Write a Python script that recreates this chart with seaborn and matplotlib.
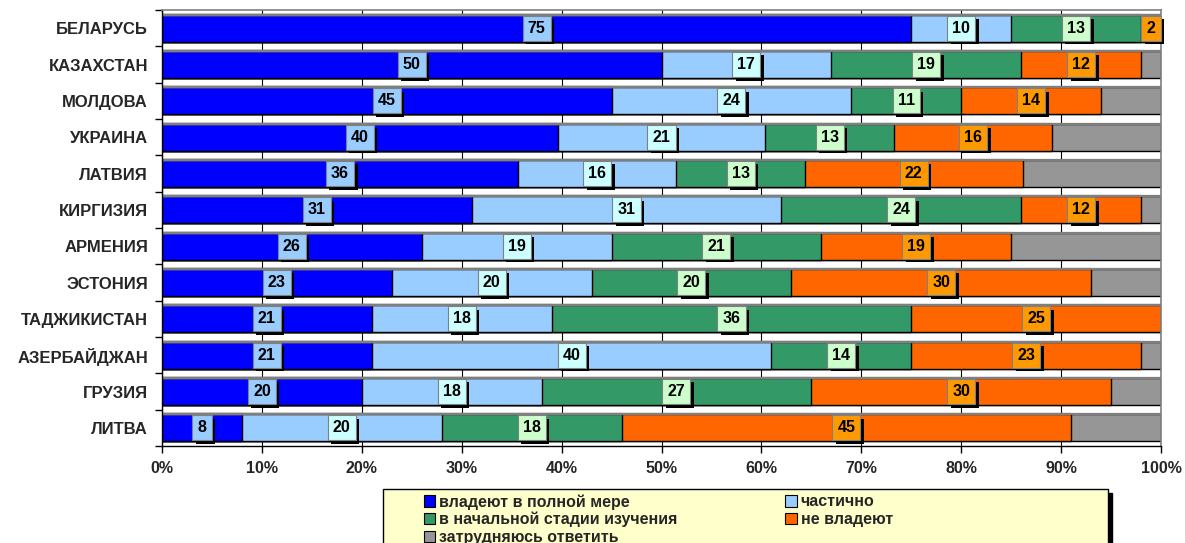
import numpy as np
import pandas as pd
import matplotlib
matplotlib.use("Agg")
import matplotlib.pyplot as plt
import seaborn as sns
from matplotlib import patheffects
from matplotlib.patches import Rectangle, Patch
from matplotlib.ticker import FixedLocator

countries = ["БЕЛАРУСЬ", "КАЗАХСТАН", "МОЛДОВА", "УКРАИНА", "ЛАТВИЯ", "КИРГИЗИЯ",
             "АРМЕНИЯ", "ЭСТОНИЯ", "ТАДЖИКИСТАН", "АЗЕРБАЙДЖАН", "ГРУЗИЯ", "ЛИТВА"]
full_command = [75, 50, 45, 40, 36, 31, 26, 23, 21, 21, 20, 8]
partial = [10, 17, 24, 21, 16, 31, 19, 20, 18, 40, 18, 20]
initial_stage = [13, 19, 11, 13, 13, 24, 21, 20, 36, 14, 27, 18]
no_command = [2, 12, 14, 16, 22, 12, 19, 30, 25, 23, 30, 45]
unsure = [0, 2, 6, 11, 14, 2, 15, 7, 0, 2, 5, 9]

series_names = ["владеют в полной мере", "частично", "в начальной стадии изучения",
                "не владеют", "затрудняюсь ответить"]
tick_values = [0, 10, 20, 30, 40, 50, 60, 70, 80, 90, 100]

colors = ["#0000FF", "#99CCFF", "#339966", "#FF6600", "#969696"]
label_bg = ["#99CCFF", "#CCFFFF", "#CCFFCC", "#FF9900"]

sns.set_style("white")
plt.rcParams["font.family"] = ["Liberation Sans", "DejaVu Sans"]

df = pd.DataFrame({"country": countries,
                   series_names[0]: full_command,
                   series_names[1]: partial,
                   series_names[2]: initial_stage,
                   series_names[3]: no_command,
                   series_names[4]: unsure})
vals = df[series_names]
pct = vals.div(vals.sum(axis=1), axis=0) * 100
cum = pct.cumsum(axis=1)

fig = plt.figure(figsize=(11.85, 5.43), dpi=100)
ax = fig.add_axes([162 / 1185, 1 - 446 / 543, (1161 - 162) / 1185, (446 - 10) / 543])

for i in reversed(range(len(series_names))):
    sns.barplot(x=cum[series_names[i]].values, y=df["country"], orient="h",
                color=colors[i], saturation=1, width=0.75, errorbar=None,
                edgecolor="black", linewidth=1.0, ax=ax)

# grey top edge of each bar (Excel-like)
for p in list(ax.patches):
    if p.get_width() > 0:
        ax.plot([p.get_x(), p.get_x() + p.get_width()], [p.get_y(), p.get_y()],
                color="#7f7f7f", lw=1.6, solid_capstyle="butt", zorder=p.get_zorder() + 0.01)

ax.set_xlim(0, 100)
ax.set_ylim(11.5, -0.5)
ax.set_xlabel("")
ax.set_ylabel("")
ax.set_xticks(tick_values)
ax.set_xticklabels([f"{v}%" for v in tick_values], fontweight="bold", fontsize=11.5)
ax.set_yticks(range(len(countries)))
ax.set_yticklabels(countries, fontweight="bold", fontsize=12)
ax.tick_params(axis="y", which="major", length=0, pad=10)
ax.yaxis.set_minor_locator(FixedLocator(np.arange(-0.5, len(countries), 1)))
ax.tick_params(axis="y", which="minor", length=5, width=1, color="black", left=True)
ax.tick_params(axis="x", which="major", length=5, width=1, color="black", bottom=True, pad=6)
ax.grid(axis="x", color="black", linewidth=0.8)
ax.grid(axis="y", visible=False)
ax.set_axisbelow(True)
for s in ["top", "right"]:
    ax.spines[s].set_color("#808080")
    ax.spines[s].set_linewidth(1.2)
for s in ["left", "bottom"]:
    ax.spines[s].set_color("black")
    ax.spines[s].set_linewidth(1.0)

shadow = [patheffects.SimplePatchShadow(offset=(2.5, -2.5), shadow_rgbFace="black", alpha=1.0),
          patheffects.Normal()]
for i in range(4):
    prev = cum[series_names[i - 1]] if i > 0 else pd.Series(0, index=cum.index)
    for j in range(len(countries)):
        v = vals[series_names[i]].iloc[j]
        if v <= 0:
            continue
        xc = prev.iloc[j] + pct[series_names[i]].iloc[j] / 2
        t = ax.text(xc, j, str(v), ha="center", va="center",
                    fontsize=11.5, fontweight="bold", color="black", zorder=10,
                    bbox=dict(boxstyle="square,pad=0.32", fc=label_bg[i], ec="#808080", lw=0.8))
        t.get_bbox_patch().set_path_effects(shadow)

# legend box with shadow
fig.patches.append(Rectangle((387 / 1185, -0.1), (1108 - 383) / 1185, (543 - 489) / 543 + 0.1 - 4 / 543,
                             transform=fig.transFigure, fc="black", ec="black", zorder=1))
fig.patches.append(Rectangle((383 / 1185, -0.1), (1108 - 383) / 1185, (543 - 489) / 543 + 0.1,
                             transform=fig.transFigure, fc="#FFFFCC", ec="black", lw=1, zorder=2))
order = [0, 2, 4, 1, 3]
handles = [Patch(facecolor=colors[k], edgecolor="black", linewidth=0.8) for k in order]
labels = [series_names[k] for k in order]
leg = fig.legend(handles, labels, ncol=2, frameon=False, loc="upper left",
                 bbox_to_anchor=(424 / 1185, 1 - 494 / 543),
                 handlelength=0.7, handleheight=0.7, handletextpad=0.25,
                 columnspacing=6.75, labelspacing=0.15, borderpad=0, borderaxespad=0,
                 prop={"weight": "bold", "size": 11.5})
leg.set_zorder(5)

fig.savefig("out.png", dpi=100)
